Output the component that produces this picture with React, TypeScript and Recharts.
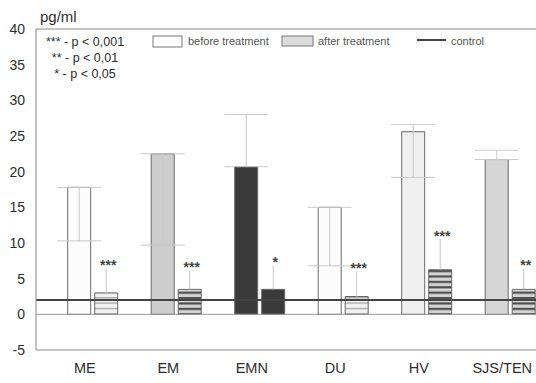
import React from 'react';
import { BarChart, Bar, XAxis, YAxis, ReferenceLine, Cell, ErrorBar, LabelList } from 'recharts';

const categories = ['ME', 'EM', 'EMN', 'DU', 'HV', 'SJS/TEN'];
const beforeValues = [17.8, 22.5, 20.7, 15.0, 25.6, 21.7];
const afterValues = [3.0, 3.5, 3.5, 2.5, 6.25, 3.5];
const beforeErrLow = [7.5, 12.8, 0, 8.2, 6.4, 0];
const beforeErrHigh = [0, 0, 7.3, 0, 1.0, 1.3];
const afterErrHigh = [3.4, 2.6, 3.3, 3.5, 4.3, 2.9];
const stars = ['***', '***', '*', '***', '***', '**'];
const controlValue = 2;
const yTicks = [-5, 0, 5, 10, 15, 20, 25, 30, 35, 40];
const legendStars = ['*** - p < 0,001', '** - p < 0,01', '* - p < 0,05'];

// styles
const beforeFills = ['#fcfcfc', '#cdcdcd', '#3a3a3a', '#fcfcfc', '#efefef', '#d6d6d6'];
const afterFills = ['url(#stripesLight)', 'url(#stripesDark)', '#3a3a3a', 'url(#stripesLight)', 'url(#stripesDark)', 'url(#stripesDark)'];

const FONT = '"Liberation Sans", Arial, Helvetica, sans-serif';

const chartData = categories.map((name, i) => ({
  name,
  before: beforeValues[i],
  after: afterValues[i],
  beforeErr: [beforeErrLow[i], beforeErrHigh[i]],
  afterErr: [0, afterErrHigh[i]],
}));

const XTick = (props: any) => {
  const { x, y, payload } = props;
  return (
    <text x={x - 8} y={y} dy="0.71em" textAnchor="middle" fontSize={14.5} fill="#2e2e2e" fontFamily={FONT}>
      {payload.value}
    </text>
  );
};

const StarLabel = (props: any) => {
  const { x, y, width, height, value } = props;
  const i = categories.indexOf(value);
  if (i < 0) return null;
  const k = height / afterValues[i];
  const top = y - afterErrHigh[i] * k;
  return (
    <text x={x + width / 2 + 2} y={top + 1.5} textAnchor="middle" fontSize={14} fontWeight="bold" fill="#444" fontFamily={FONT}>
      {stars[i]}
    </text>
  );
};

export default function App() {
  return (
    <div style={{ position: 'absolute', left: 0, top: 0, width: 536, height: 383, overflow: 'hidden', background: '#fff' }}>
      <BarChart
        width={556}
        height={383}
        data={chartData}
        margin={{ top: 29, right: 4, bottom: 0, left: 0 }}
        barCategoryGap="20%"
        barGap={4}
      >
        <defs>
          <pattern id="stripesDark" patternUnits="userSpaceOnUse" width={8} height={5.4}>
            <rect x={0} y={0} width={8} height={5.4} fill="#d4d4d4" />
            <rect x={0} y={0} width={8} height={2.2} fill="#4e4e4e" />
          </pattern>
          <pattern id="stripesLight" patternUnits="userSpaceOnUse" width={8} height={5.4}>
            <rect x={0} y={0} width={8} height={5.4} fill="#f2f2f2" />
            <rect x={0} y={0} width={8} height={1.4} fill="#aaaaaa" />
          </pattern>
        </defs>
        <XAxis
          dataKey="name"
          height={33}
          padding={{ left: 15, right: 0 }}
          tickLine={false}
          tickSize={0}
          tickMargin={13}
          axisLine={{ stroke: '#888' }}
          tick={<XTick />}
          interval={0}
        />
        <YAxis
          type="number"
          domain={[-5, 40]}
          ticks={yTicks}
          interval={0}
          width={36}
          tickLine={false}
          tickSize={0}
          tickMargin={11}
          axisLine={{ stroke: '#888' }}
          tick={{ fontSize: 14, fill: '#2e2e2e', fontFamily: FONT }}
          allowDataOverflow
        />
        <Bar dataKey="before" isAnimationActive={false} stroke="#6a6a6a" strokeWidth={1}>
          {chartData.map((d, i) => (
            <Cell key={d.name} fill={beforeFills[i]} />
          ))}
          <ErrorBar dataKey="beforeErr" width={22} stroke="#cacaca" strokeWidth={1} direction="y" />
        </Bar>
        <Bar dataKey="after" isAnimationActive={false} stroke="#666" strokeWidth={1}>
          {chartData.map((d, i) => (
            <Cell key={d.name} fill={afterFills[i]} />
          ))}
          <ErrorBar dataKey="afterErr" width={0} stroke="#c8c8c8" strokeWidth={1} direction="y" />
          <LabelList dataKey="name" content={<StarLabel />} />
        </Bar>
        <ReferenceLine y={40} stroke="#888" strokeWidth={1} />
        <ReferenceLine y={0} stroke="#999" strokeWidth={1} />
        <ReferenceLine y={controlValue} stroke="#444" strokeWidth={2} />
      </BarChart>
      <svg
        width={536}
        height={90}
        style={{ position: 'absolute', left: 0, top: 0, pointerEvents: 'none' }}
        fontFamily={FONT}
      >
        <text x={40} y={22} fontSize={15} fill="#2e2e2e">pg/ml</text>
        {legendStars.map((t, i) => (
          <text key={t} x={85} y={45.5 + i * 16} fontSize={12.5} fill="#2e2e2e" textAnchor="middle">{t}</text>
        ))}
        <rect x={153} y={36} width={29} height={11} fill="#fff" stroke="#777" />
        <text x={188} y={45} fontSize={11} fill="#555">before treatment</text>
        <rect x={282} y={36} width={31} height={10} fill="#dcdcdc" stroke="#777" />
        <text x={318} y={45} fontSize={11} fill="#555">after treatment</text>
        <line x1={417} x2={446} y1={40} y2={40} stroke="#444" strokeWidth={2} />
        <text x={451} y={45} fontSize={11} fill="#555">control</text>
      </svg>
    </div>
  );
}
